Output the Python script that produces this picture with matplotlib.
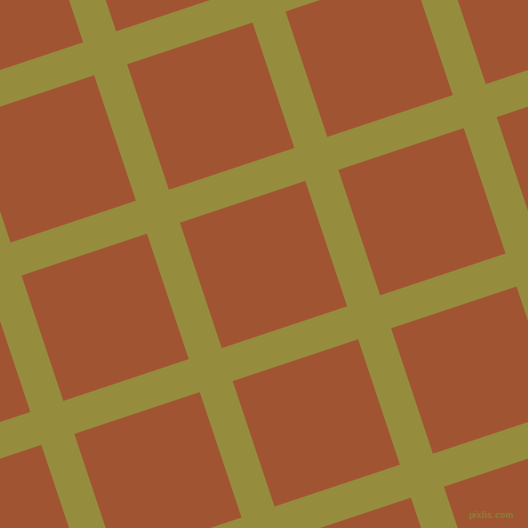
import numpy as np
import matplotlib
matplotlib.use("Agg")
import matplotlib.pyplot as plt

# Grid pattern parameters (pixel units of the 528x528 picture)
steep_offsets = [69 - 176 * 2, 69 - 176, 69, 69 + 176, 69 + 176 * 2, 69 + 176 * 3]   # left edge x at y=0
flat_offsets = [70 - 176, 70, 70 + 176, 70 + 176 * 2, 70 + 176 * 3, 70 + 176 * 4]     # top edge y at x=0
band_width = 36.7
slope = 1.0 / 3.0
bg_color = "#A05432"
line_color = "#958C3E"
watermark = "pixlis.com"

fig = plt.figure(figsize=(5.28, 5.28), dpi=100)
fig.patch.set_facecolor(bg_color)
ax = fig.add_axes([0, 0, 1, 1])
ax.set_facecolor(bg_color)
ax.set_xlim(0, 528)
ax.set_ylim(528, 0)
ax.axis("off")

ylo, yhi = -100, 700
for x0 in steep_offsets:
    xs = [x0 + ylo * slope, x0 + band_width + ylo * slope,
          x0 + band_width + yhi * slope, x0 + yhi * slope]
    ys = [ylo, ylo, yhi, yhi]
    ax.fill(xs, ys, color=line_color, lw=0)

xlo, xhi = -100, 700
for y0 in flat_offsets:
    xs = [xlo, xhi, xhi, xlo]
    ys = [y0 - xlo * slope, y0 - xhi * slope,
          y0 + band_width - xhi * slope, y0 + band_width - xlo * slope]
    ax.fill(xs, ys, color=line_color, lw=0)

ax.text(514, 516, watermark, fontsize=5.8, color="#867F38", ha="right", va="center",
        family="DejaVu Sans", fontweight="bold")

fig.savefig("out.png", dpi=100, facecolor=bg_color)
